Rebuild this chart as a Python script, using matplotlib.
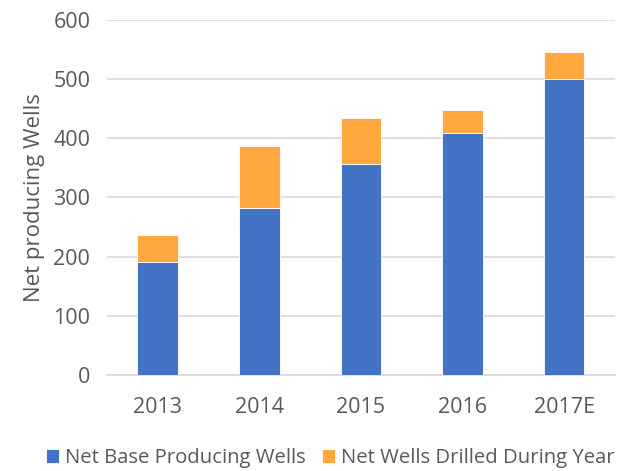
import matplotlib
matplotlib.use('Agg')
import matplotlib.pyplot as plt
import numpy as np

years = ['2013', '2014', '2015', '2016', '2017E']
base_wells = [191, 283, 357, 409, 500]
drilled_wells = [45, 104, 77, 38, 46]

plt.rcParams['font.family'] = ['Open Sans', 'DejaVu Sans']
txt = '#595959'

fig = plt.figure(figsize=(6.24, 4.71), dpi=100)
ax = fig.add_axes([0.1715, 0.2038, 0.814, 0.754])

x = np.arange(len(years))
ax.bar(x, base_wells, width=0.4, color='#4472C4', edgecolor='white', linewidth=0.6,
       label='Net Base Producing Wells', zorder=3)
ax.bar(x, drilled_wells, width=0.4, bottom=base_wells, color='#FFA83F', edgecolor='white',
       linewidth=0.6, label='Net Wells Drilled During Year', zorder=3)

ax.set_xlim(-0.5, len(years) - 0.5)
ax.set_ylim(0, 600)
ax.set_yticks(range(0, 601, 100))
ax.set_xticks(x)
ax.set_xticklabels(years)
ax.grid(axis='y', color='#D9D9D9', linewidth=1.2, zorder=0)
for s in ['top', 'right', 'left']:
    ax.spines[s].set_visible(False)
ax.spines['bottom'].set_color('#D9D9D9')
ax.spines['bottom'].set_linewidth(1.2)
ax.tick_params(axis='both', length=0, labelsize=15.5, colors=txt)
ax.tick_params(axis='x', pad=16)
ax.tick_params(axis='y', pad=12)
ax.set_ylabel('Net producing Wells', fontsize=16, color=txt, labelpad=6)

ax.legend(loc='upper center', bbox_to_anchor=(0.44, -0.155), ncol=2, frameon=False,
          fontsize=14.6, labelcolor=txt, handlelength=0.65, handleheight=0.65,
          handletextpad=0.3, columnspacing=0.8)

fig.savefig('out.png', dpi=100)
